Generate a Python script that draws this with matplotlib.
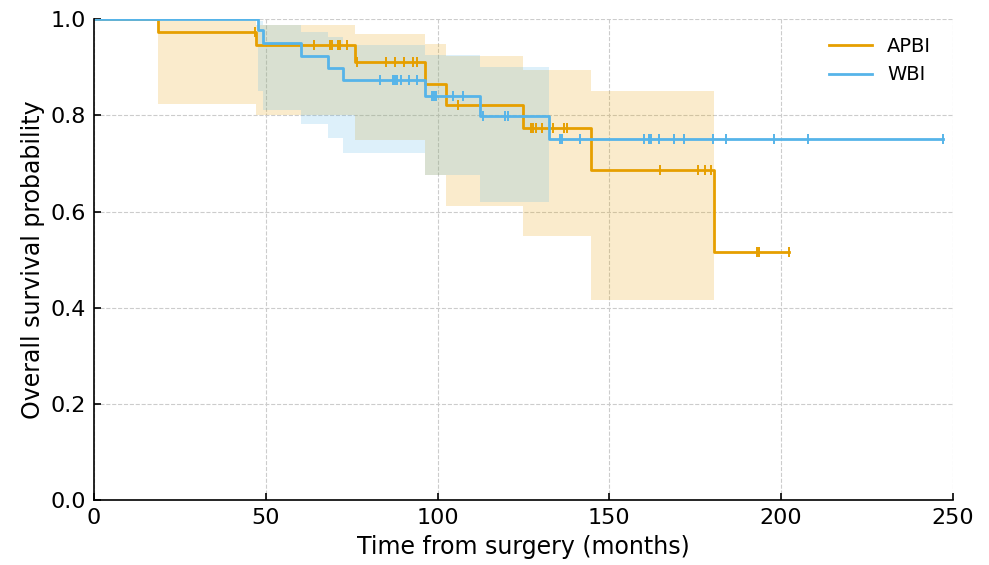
import numpy as np
import matplotlib
matplotlib.use("Agg")
import matplotlib.pyplot as plt

# Kaplan-Meier curves (months, survival)
apbi_t = [0, 18.6, 47.3, 76.0, 96.3, 102.6, 124.8, 144.8, 180.5, 202.4]
apbi_s = [1.0, 0.973, 0.946, 0.911, 0.866, 0.821, 0.773, 0.687, 0.515, 0.515]
apbi_band_t = [18.6, 47.3, 76.0, 96.3, 102.6, 124.8, 144.8, 180.5]
apbi_lo = [0.823, 0.800, 0.748, 0.675, 0.611, 0.550, 0.416, 0.416]
apbi_hi = [0.998, 0.987, 0.970, 0.949, 0.923, 0.894, 0.850, 0.850]
apbi_cens = [47.0, 64.0, 68.7, 69.3, 71.0, 71.7, 73.6, 76.5, 85.0, 87.6, 90.1,
             92.9, 93.9, 106.0, 127.2, 127.8, 128.6, 130.3, 133.7, 136.9, 137.8,
             164.7, 175.9, 177.8, 179.5, 193.1, 193.6, 202.4]

wbi_t = [0, 47.8, 49.3, 60.4, 68.2, 72.4, 96.3, 112.5, 132.5, 247.2]
wbi_s = [1.0, 0.977, 0.951, 0.923, 0.898, 0.873, 0.840, 0.798, 0.750, 0.750]
wbi_band_t = [47.8, 49.3, 60.4, 68.2, 72.4, 96.3, 112.5, 132.5]
wbi_lo = [0.850, 0.811, 0.782, 0.752, 0.721, 0.676, 0.620, 0.620]
wbi_hi = [0.997, 0.988, 0.974, 0.962, 0.946, 0.925, 0.900, 0.900]
wbi_cens = [83.2, 87.1, 87.6, 88.3, 89.3, 91.8, 94.1, 98.3, 99.0, 99.6, 104.4,
            107.3, 113.3, 119.6, 120.6, 135.6, 136.1, 141.4, 160.2, 161.6, 162.1,
            164.4, 168.8, 171.7, 180.1, 183.9, 198.0, 207.9, 247.2]

groups = [
    ("APBI", "#E69F00", apbi_t, apbi_s, apbi_band_t, apbi_lo, apbi_hi, apbi_cens),
    ("WBI", "#56B4E9", wbi_t, wbi_s, wbi_band_t, wbi_lo, wbi_hi, wbi_cens),
]


def surv_at(times, surv, x):
    idx = np.searchsorted(times, x, side="right") - 1
    return np.asarray(surv)[idx]


fig = plt.figure(figsize=(9.89, 5.65), dpi=100)
ax = fig.add_axes([0.095, 0.115, 0.8685, 0.851])

for name, col, t, s, bt, lo, hi, cens in groups:
    ax.fill_between(bt, lo, hi, step="post", color=col, alpha=0.2, lw=0)
    ax.step(t, s, where="post", color=col, lw=2.0, label=name)
    cs = surv_at(t, s, cens)
    ax.plot(cens, cs, ls="none", marker="|", ms=6.5, mew=1.4, color=col)

ax.set_xlim(0, 250)
ax.set_ylim(0, 1.0)
ax.set_xticks([0, 50, 100, 150, 200, 250])
ax.set_yticks([0.0, 0.2, 0.4, 0.6, 0.8, 1.0])
ax.grid(True, ls="--", color="#cccccc", lw=0.8)
ax.set_axisbelow(True)
for sp in ["top", "right"]:
    ax.spines[sp].set_visible(False)
for sp in ["left", "bottom"]:
    ax.spines[sp].set_linewidth(1.2)
ax.tick_params(direction="in", length=5, width=1.2, labelsize=16, pad=6)
ax.set_xlabel("Time from surgery (months)", fontsize=17, labelpad=5)
ax.set_ylabel("Overall survival probability", fontsize=17)
ax.legend(loc="upper right", frameon=False, fontsize=14,
          bbox_to_anchor=(0.995, 1.0), handlelength=2.2, labelspacing=0.5)

fig.savefig("out.png", dpi=100)
